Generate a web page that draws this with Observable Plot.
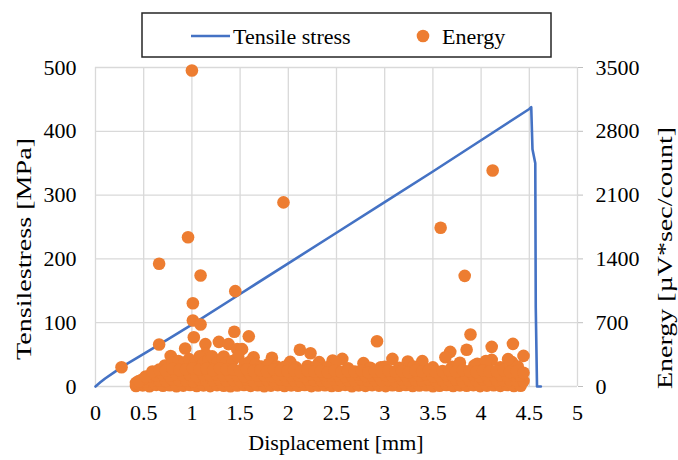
<!DOCTYPE html>
<html><head><meta charset="utf-8">
<script src="https://cdn.jsdelivr.net/npm/d3@7"></script>
<script src="https://cdn.jsdelivr.net/npm/@observablehq/plot@0.6"></script>
<style>
body{margin:0;background:#fff;font-family:"Liberation Serif","Times New Roman",serif;}
#wrap{position:relative;width:678px;height:460px;overflow:hidden;}
#wrap > svg{position:absolute;left:0;top:0;}
</style></head><body><div id="wrap"></div>
<script>
// Tensile stress curve
const stressDisp = [0,0.05,0.1,0.2,0.3,0.5,0.75,1.0,1.5,2.0,2.5,3.0,3.5,4.0,4.5,4.52,4.533,4.562,4.567,4.58,4.62];
const stressMPa  = [0,6.5,12.5,23,33,51,74,97,145,193,241,289,337,386,435,438,372,350,124,0,0];

// Energy: high outliers
const peakDisp   = [1.0,1.95,4.12,3.58,0.96,0.66,3.83,1.09,1.45,1.01,1.01,1.09,0.27,0.66,1.44,1.02,1.59,1.28,1.38,1.14,0.93,1.47,1.52,0.78,1.83,2.12,2.23,2.02,2.32,2.46,1.64,1.14,1.33,1.23,2.92,3.89,3.85,4.11,4.33,4.44,3.68,2.56,2.78,3.08,3.24,3.39,3.63,4.11,4.32,3.96,2.96,2.49];
const peakEnergy = [3467,2020,2370,1741,1638,1346,1214,1218,1046,914,724,680,212,461,600,541,550,490,465,465,417,410,410,335,315,403,365,270,267,285,321,358,329,250,497,570,403,435,468,336,380,303,256,303,274,278,321,292,267,249,212,267];

// Energy: cluster just above the dense band
const clusterDisp   = [0.72,0.80,0.86,0.92,0.97,1.03,1.08,1.12,1.17,1.21,1.27,1.32,1.36,1.42,1.48,1.55,1.60,1.66,1.72,1.80,1.88,1.96,2.08,2.20,2.28,2.40,2.62,2.85,3.00,3.15,3.30,3.50,3.70,3.78,3.93,4.05,4.20,4.38,4.28,4.05];
const clusterEnergy = [230,260,280,260,300,250,330,260,290,330,270,300,260,280,330,250,270,240,220,250,220,215,210,225,215,210,200,205,215,205,220,210,215,260,230,220,210,220,300,280];

// Dense band: two staggered displacement sets, four rows of energy
const bandDispA = [0.42,0.49,0.56,0.63,0.70,0.77,0.84,0.91,0.98,1.05,1.12,1.19,1.26,1.33,1.40,1.47,1.54,1.61,1.68,1.75,1.82,1.89,1.96,2.03,2.10,2.17,2.24,2.31,2.38,2.45,2.52,2.59,2.66,2.73,2.80,2.87,2.94,3.01,3.08,3.15,3.22,3.29,3.36,3.43,3.50,3.57,3.64,3.71,3.78,3.85,3.92,3.99,4.06,4.13,4.20,4.27,4.34,4.41];
const bandDispB = [0.45,0.52,0.59,0.66,0.73,0.80,0.87,0.94,1.01,1.08,1.15,1.22,1.29,1.36,1.43,1.50,1.57,1.64,1.71,1.78,1.85,1.92,1.99,2.06,2.13,2.20,2.27,2.34,2.41,2.48,2.55,2.62,2.69,2.76,2.83,2.90,2.97,3.04,3.11,3.18,3.25,3.32,3.39,3.46,3.53,3.60,3.67,3.74,3.81,3.88,3.95,4.02,4.09,4.16,4.23,4.30,4.37,4.44];
const bandRow0 = [5,12,3,18,8,14,2,10,16,6,12,4,15,9,3,11,17,7,13,2,10,15,5,12,8,16,4,11,14,6,9,18,3,12,7,15,10,4,13,8,16,5,11,14,3,9,17,6,12,8,15,4,10,13,7,16,5,9];
const bandRow1 = [30,55,65,70,62,75,68,72,60,78,66,70,74,63,71,67,76,61,69,73,64,77,66,70,62,75,68,72,60,74,67,71,65,76,63,70,68,73,61,75,66,70,64,77,62,71,69,74,60,72,67,75,63,70,68,73,65,60];
const bandRow2 = [40,80,115,120,125,118,130,122,128,115,126,120,132,118,124,127,116,129,121,125,117,128,123,119,126,114,130,121,124,118,127,115,122,129,117,125,120,126,116,128,121,124,119,130,115,123,127,118,125,120,128,116,124,121,126,119,122,118];
const bandRow3 = [60,110,165,185,175,195,180,190,200,185,195,180,200,190,185,175,190,170,180,165,185,175,170,180,160,175,165,170,155,175,160,170,165,175,155,170,160,175,165,170,155,175,165,180,160,170,175,165,180,170,160,175,165,170,180,160,170,150];

// Axes
const xTicks = [0,0.5,1,1.5,2,2.5,3,3.5,4,4.5,5];
const yTicks = [0,100,200,300,400,500];
const energyPerMPa = 3500/500;

const stressData = stressDisp.map((d,i)=>({disp:d, stress:stressMPa[i]}));
const energyData = [];
[[peakDisp,peakEnergy],[clusterDisp,clusterEnergy],[bandDispA,bandRow0],[bandDispB,bandRow1],[bandDispA,bandRow2],[bandDispB,bandRow3]]
  .forEach(([xs,es]) => xs.forEach((d,i)=>energyData.push({disp:d, energy:es[i]})));

const blue = "#4472C4", orange = "#ED7D31", grid = "#d9d9d9";
const serif = "'Liberation Serif','Times New Roman',serif";

const chart = Plot.plot({
  width: 678, height: 460,
  marginLeft: 95, marginRight: 101, marginTop: 67, marginBottom: 74,
  style: {fontFamily: serif, fontSize: "22px", background: "transparent", color: "#000"},
  x: {domain: [0,5]},
  y: {domain: [0,500]},
  marks: [
    Plot.gridX(xTicks, {stroke: grid, strokeOpacity: 1, strokeWidth: 1.3}),
    Plot.gridY(yTicks, {stroke: grid, strokeOpacity: 1, strokeWidth: 1.3}),
    Plot.axisX(xTicks, {tickSize: 0, tickPadding: 18, tickFormat: d => String(d), label: null, fontSize: 22}),
    Plot.axisY(yTicks, {anchor: "left", tickSize: 0, tickPadding: 19, tickFormat: d => String(d), label: null, fontSize: 22}),
    Plot.axisY(yTicks, {anchor: "right", tickSize: 5, tickPadding: 13, stroke: "#bfbfbf", tickFormat: d => String(d*energyPerMPa), label: null, fontSize: 22}),
    Plot.line(stressData, {x: "disp", y: "stress", stroke: blue, strokeWidth: 2.6}),
    Plot.dot(energyData, {x: "disp", y: d => d.energy/energyPerMPa, r: 6.3, fill: orange, stroke: null})
  ]
});
const wrap = document.getElementById("wrap");
wrap.appendChild(chart);

// Titles and legend overlay
const ns = "http://www.w3.org/2000/svg";
const ov = document.createElementNS(ns, "svg");
ov.setAttribute("width", 678); ov.setAttribute("height", 460);
ov.style.fontFamily = serif;
ov.style.fontSize = "22px";
ov.innerHTML = `
  <text x="336" y="450" text-anchor="middle" fill="#000">Displacement [mm]</text>
  <text transform="translate(31,249) rotate(-90)" text-anchor="middle" fill="#000" textLength="222" lengthAdjust="spacingAndGlyphs">Tensilestress [MPa]</text>
  <text transform="translate(656,258) rotate(-90)" text-anchor="middle" fill="#000" dominant-baseline="hanging" textLength="262" lengthAdjust="spacingAndGlyphs">Energy [µV*sec/count]</text>
  <rect x="142" y="13" width="409" height="44" fill="#fff" stroke="#262626" stroke-width="1.5"/>
  <line x1="191" y1="36" x2="230" y2="36" stroke="${blue}" stroke-width="2.6"/>
  <text x="233" y="43.5" fill="#000">Tensile stress</text>
  <circle cx="423" cy="36" r="6.3" fill="${orange}"/>
  <text x="442" y="43.5" fill="#000">Energy</text>
`;
wrap.appendChild(ov);
</script>
</body></html>
